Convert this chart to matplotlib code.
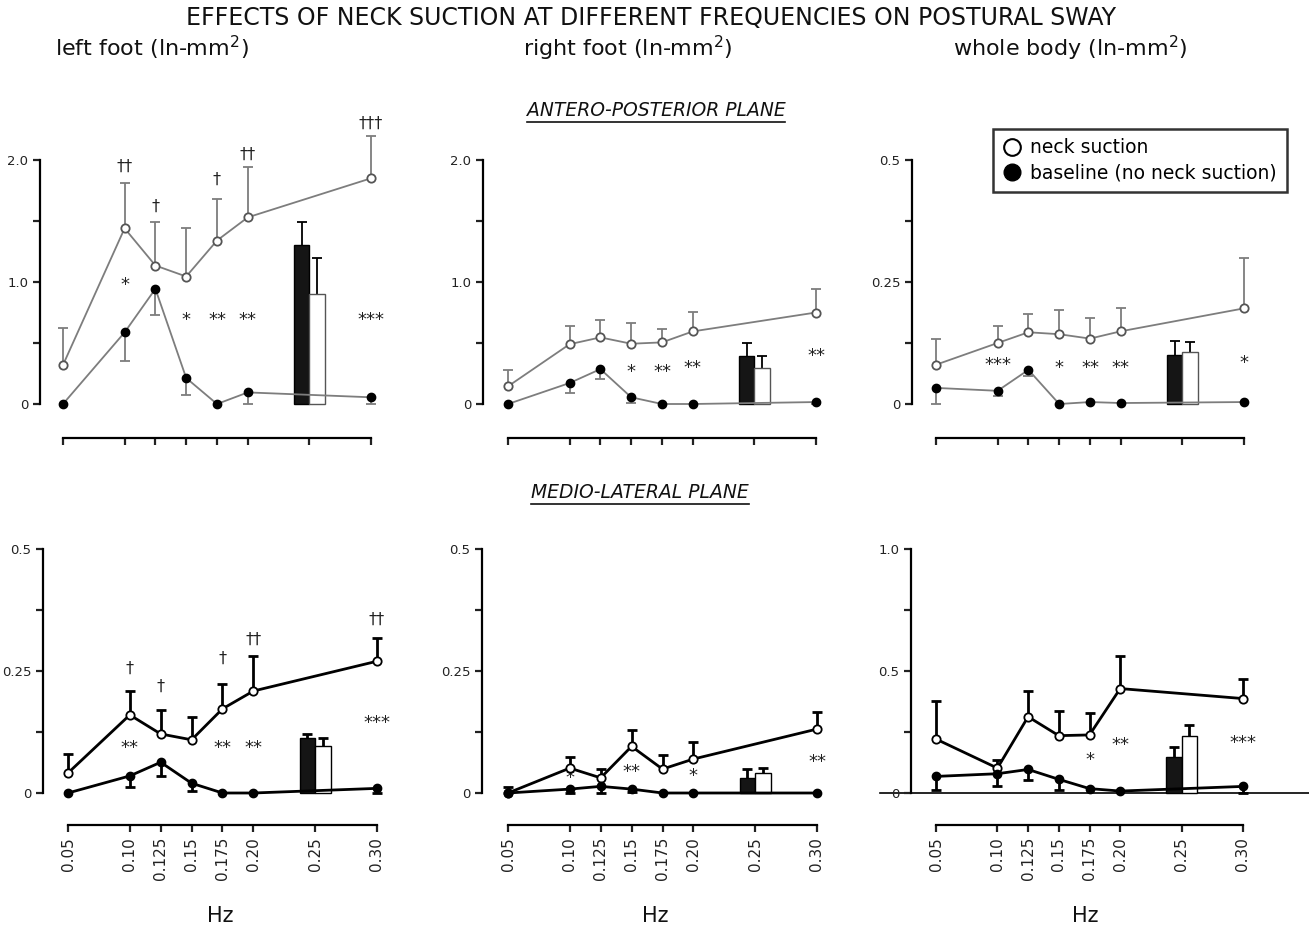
import numpy as np
import matplotlib
matplotlib.use("Agg")
import matplotlib.pyplot as plt
from matplotlib.lines import Line2D
import matplotlib.transforms as mtransforms

W, H = 1309, 934

# frequencies (Hz) of the sweep points, and where the bars sit
freqs = [0.05, 0.10, 0.125, 0.15, 0.175, 0.20, 0.30]
bar_freq = 0.25
xtick_vals = [0.05, 0.10, 0.125, 0.15, 0.175, 0.20, 0.25, 0.30]
xtick_labels = ["0.05", "0.10", "0.125", "0.15", "0.175", "0.20", "0.25", "0.30"]

# ---- antero-posterior, left foot ----
tl_neck = [0.32, 1.44, 1.135, 1.045, 1.34, 1.53, 1.85]
tl_neck_hi = [0.62, 1.81, 1.49, 1.445, 1.68, 1.94, 2.20]
tl_base = [0.0, 0.587, 0.944, 0.213, 0.0, 0.095, 0.055]
tl_base_lo = [0.0, 0.355, 0.73, 0.076, 0.0, 0.0, 0.0]
tl_bars = [1.30, 0.90]
tl_bars_hi = [1.495, 1.20]
tl_sig_x = [0.10, 0.15, 0.175, 0.20, 0.30, 0.10, 0.125, 0.175, 0.20, 0.30]
tl_sig_y = [0.977, 0.69, 0.69, 0.69, 0.69, 1.945, 1.62, 1.84, 2.05, 2.30]
tl_sig = ["*", "*", "**", "**", "***", "††", "†", "†", "††", "†††"]

# ---- antero-posterior, right foot ----
tm_neck = [0.145, 0.49, 0.546, 0.494, 0.505, 0.595, 0.75]
tm_neck_hi = [0.28, 0.636, 0.685, 0.668, 0.614, 0.756, 0.94]
tm_base = [0.0, 0.172, 0.286, 0.055, 0.0, 0.0, 0.016]
tm_base_lo = [0.0, 0.09, 0.205, 0.01, 0.0, 0.0, 0.0]
tm_bars = [0.396, 0.295]
tm_bars_hi = [0.50, 0.39]
tm_sig_x = [0.15, 0.175, 0.20, 0.30]
tm_sig_y = [0.26, 0.26, 0.295, 0.39]
tm_sig = ["*", "**", "**", "**"]

# ---- antero-posterior, whole body ----
tr_neck = [0.0805, 0.125, 0.147, 0.143, 0.134, 0.149, 0.196]
tr_neck_hi = [0.133, 0.16, 0.184, 0.193, 0.177, 0.196, 0.299]
tr_base = [0.033, 0.027, 0.07, 0.0, 0.004, 0.002, 0.004]
tr_base_lo = [0.0, 0.016, 0.057, 0.0, 0.004, 0.002, 0.004]
tr_bars = [0.0996, 0.106]
tr_bars_hi = [0.13, 0.127]
tr_sig_x = [0.10, 0.15, 0.175, 0.20, 0.30]
tr_sig_y = [0.08, 0.074, 0.074, 0.074, 0.084]
tr_sig = ["***", "*", "**", "**", "*"]

# ---- medio-lateral, left foot ----
bl_neck = [0.041, 0.16, 0.121, 0.109, 0.1725, 0.209, 0.27]
bl_neck_hi = [0.08, 0.209, 0.17, 0.156, 0.224, 0.28, 0.317]
bl_base = [0.0, 0.035, 0.063, 0.02, 0.0, 0.0, 0.0095]
bl_base_lo = [0.0, 0.012, 0.034, 0.005, 0.0, 0.0, 0.0]
bl_bars = [0.1125, 0.0955]
bl_bars_hi = [0.121, 0.1125]
bl_sig_x = [0.10, 0.175, 0.20, 0.30, 0.10, 0.125, 0.175, 0.20, 0.30]
bl_sig_y = [0.092, 0.092, 0.092, 0.143, 0.255, 0.218, 0.276, 0.314, 0.355]
bl_sig = ["**", "**", "**", "***", "†", "†", "†", "††", "††"]

# ---- medio-lateral, right foot ----
bm_neck = [0.0, 0.051, 0.031, 0.0955, 0.049, 0.0696, 0.131]
bm_neck_hi = [0.012, 0.073, 0.05, 0.13, 0.078, 0.104, 0.166]
bm_base = [0.0, 0.008, 0.0136, 0.008, 0.0, 0.0, 0.0]
bm_base_lo = [0.0, 0.0, 0.0, 0.002, 0.0, 0.0, 0.0]
bm_bars = [0.03, 0.042]
bm_bars_hi = [0.049, 0.052]
bm_sig_x = [0.10, 0.15, 0.20, 0.30]
bm_sig_y = [0.031, 0.044, 0.034, 0.063]
bm_sig = ["*", "**", "*", "**"]

# ---- medio-lateral, whole body ----
br_neck = [0.221, 0.102, 0.3125, 0.235, 0.238, 0.428, 0.387]
br_neck_hi = [0.378, 0.137, 0.416, 0.337, 0.327, 0.561, 0.466]
br_base = [0.068, 0.079, 0.0965, 0.056, 0.018, 0.008, 0.027]
br_base_lo = [0.0136, 0.027, 0.052, 0.011, 0.018, 0.008, 0.0]
br_bars = [0.147, 0.235]
br_bars_hi = [0.19, 0.279]
br_sig_x = [0.175, 0.20, 0.30]
br_sig_y = [0.136, 0.197, 0.205]
br_sig = ["*", "**", "***"]

ylabels_2 = ["0", "", "1.0", "", "2.0"]
ylabels_05 = ["0", "", "0.25", "", "0.5"]
ylabels_1 = ["0", "", "0.5", "", "1.0"]

fig = plt.figure(figsize=(W / 100, H / 100), dpi=100)


def make_axes(px_left, px_x05, px_x30, px_y0, px_ytop, ytop):
    # place an axes so that data values land on the pixels
    sx = 0.25 / (px_x30 - px_x05)
    sy = ytop / (px_y0 - px_ytop)
    px_right = px_x30 + 14
    px_bot = px_y0 + 8
    ax = fig.add_axes([px_left / W, 1 - px_bot / H,
                       (px_right - px_left) / W, (px_bot - px_ytop) / H])
    ax.set_xlim(0.05 - (px_x05 - px_left) * sx, 0.30 + 14 * sx)
    ax.set_ylim(-8 * sy, ytop)
    return ax


def draw_panel(ax, neck, neck_hi, base, base_lo, bars, bars_hi, sig_x, sig_y, sig,
               ytop, ylabels, bottom_row, spine_px):
    if bottom_row:
        lc, lw, ec, mec = "black", 2.0, "black", "black"
    else:
        lc, lw, ec, mec = "#7d7d7d", 1.3, "#7d7d7d", "#555555"
    f = np.array(freqs)
    neck = np.array(neck)
    base = np.array(base)

    # bars at 0.25 Hz: black = baseline, white = neck suction
    bw = 0.0125
    bx = [bar_freq - bw / 2, bar_freq + bw / 2]
    ax.bar(bx[0], bars[0], width=bw, color="#151515", edgecolor="black", lw=1, zorder=2)
    ax.bar(bx[1], bars[1], width=bw, color="white", edgecolor=mec, lw=1, zorder=2)
    ax.vlines(bx, bars, bars_hi, color="black", lw=lw, zorder=1, clip_on=False)
    ax.plot(bx, bars_hi, ls="none", marker="_", ms=7, mew=lw, color="black", clip_on=False)

    # error bars: neck suction upward, baseline downward
    ax.vlines(f, neck, neck_hi, color=ec, lw=lw, zorder=1, clip_on=False)
    ax.plot(f, neck_hi, ls="none", marker="_", ms=7, mew=lw, color=ec, clip_on=False)
    lo = np.array(base_lo)
    m = (base - lo) > 0.004 * ytop
    ax.vlines(f[m], lo[m], base[m], color=ec, lw=lw, zorder=1, clip_on=False)
    ax.plot(f[m], lo[m], ls="none", marker="_", ms=7, mew=lw, color=ec, clip_on=False)

    ax.plot(f, neck, color=lc, lw=lw, marker="o", ms=6, mfc="white", mec=mec,
            mew=1.3, zorder=4, clip_on=False)
    ax.plot(f, base, color=lc, lw=lw, marker="o", ms=6, mfc="black", mec="black",
            zorder=5, clip_on=False)

    for x, y, s in zip(sig_x, sig_y, sig):
        if "†" in s:
            ax.text(x, y, s, ha="center", va="center", fontsize=11.5, color="#222222")
        else:
            ax.text(x, y, s, ha="center", va="center", fontsize=13, color="#222222")

    for side in ["top", "right"]:
        ax.spines[side].set_visible(False)
    ax.spines["left"].set_bounds(0, ytop)
    ax.spines["left"].set_linewidth(1.6)
    ax.spines["bottom"].set_bounds(0.05, 0.30)
    ax.spines["bottom"].set_linewidth(1.6)
    ax.spines["bottom"].set_position(("outward", spine_px * 0.72))
    ax.set_yticks(np.linspace(0, ytop, 5))
    ax.set_yticklabels(ylabels, fontsize=9.5)
    ax.set_xticks(xtick_vals)
    ax.tick_params(width=1.6, length=5, direction="out", colors="#222222")
    if bottom_row:
        ax.set_xticklabels(xtick_labels, rotation=90, fontsize=11)
    else:
        ax.set_xticklabels([])


ax = make_axes(40, 63, 371, 404, 160, 2.0)
draw_panel(ax, tl_neck, tl_neck_hi, tl_base, tl_base_lo, tl_bars, tl_bars_hi,
           tl_sig_x, tl_sig_y, tl_sig, 2.0, ylabels_2, False, 26)
ax = make_axes(483, 508, 816, 404, 160, 2.0)
draw_panel(ax, tm_neck, tm_neck_hi, tm_base, tm_base_lo, tm_bars, tm_bars_hi,
           tm_sig_x, tm_sig_y, tm_sig, 2.0, ylabels_2, False, 26)
ax = make_axes(912, 936, 1244, 404, 160, 0.5)
draw_panel(ax, tr_neck, tr_neck_hi, tr_base, tr_base_lo, tr_bars, tr_bars_hi,
           tr_sig_x, tr_sig_y, tr_sig, 0.5, ylabels_05, False, 26)
ax = make_axes(43, 68, 377, 793, 549, 0.5)
draw_panel(ax, bl_neck, bl_neck_hi, bl_base, bl_base_lo, bl_bars, bl_bars_hi,
           bl_sig_x, bl_sig_y, bl_sig, 0.5, ylabels_05, True, 24)
ax = make_axes(482, 508, 817, 793, 549, 0.5)
draw_panel(ax, bm_neck, bm_neck_hi, bm_base, bm_base_lo, bm_bars, bm_bars_hi,
           bm_sig_x, bm_sig_y, bm_sig, 0.5, ylabels_05, True, 24)
ax = make_axes(911, 936, 1243, 793, 549, 1.0)
draw_panel(ax, br_neck, br_neck_hi, br_base, br_base_lo, br_bars, br_bars_hi,
           br_sig_x, br_sig_y, br_sig, 1.0, ylabels_1, True, 24)
# zero line running across the last panel
tr_ = mtransforms.blended_transform_factory(fig.transFigure, ax.transData)
ax.plot([880 / W, 1.0], [0, 0], color="black", lw=1.2, transform=tr_, clip_on=False, zorder=0)

# titles and headers
fig.text(0.497, 1 - 18 / H, "EFFECTS OF NECK SUCTION AT DIFFERENT FREQUENCIES ON POSTURAL SWAY",
         ha="center", va="center", fontsize=17, color="#111111")
for xc, name in zip([152, 628, 1070], ["left foot", "right foot", "whole body"]):
    fig.text(xc / W, 1 - 48 / H, name + r" (ln-mm$^2$)", ha="center", va="center",
             fontsize=16, color="#111111")
planes = []
for xc, yc, name in [(656, 110, "ANTERO-POSTERIOR PLANE"), (640, 492, "MEDIO-LATERAL PLANE")]:
    planes.append(fig.text(xc / W, 1 - yc / H, name, ha="center", va="center",
                           fontsize=13.5, style="italic", color="#111111"))
for xc in [220, 655, 1085]:
    fig.text(xc / W, 1 - 916 / H, "Hz", ha="center", va="center", fontsize=15, color="#111111")

# legend
handles = [Line2D([], [], ls="none", marker="o", ms=12, mfc="white", mec="black", mew=1.5),
           Line2D([], [], ls="none", marker="o", ms=12, mfc="black", mec="black")]
leg = fig.legend(handles, ["neck suction", "baseline (no neck suction)"],
                 loc="upper left", bbox_to_anchor=(993 / W, 1 - 129 / H), borderaxespad=0,
                 fontsize=13.5, frameon=True, fancybox=False, handlelength=1.0,
                 handletextpad=0.5, borderpad=0.5, labelspacing=0.35)
leg.get_frame().set_edgecolor("black")
leg.get_frame().set_linewidth(1.8)

# underline the plane labels
fig.canvas.draw()
rend = fig.canvas.get_renderer()
for t in planes:
    bb = t.get_window_extent(rend)
    y = (bb.y0 - 2) / H
    fig.add_artist(Line2D([bb.x0 / W, bb.x1 / W], [y, y], color="#111111", lw=1.2))

fig.savefig("out.png", dpi=100)
